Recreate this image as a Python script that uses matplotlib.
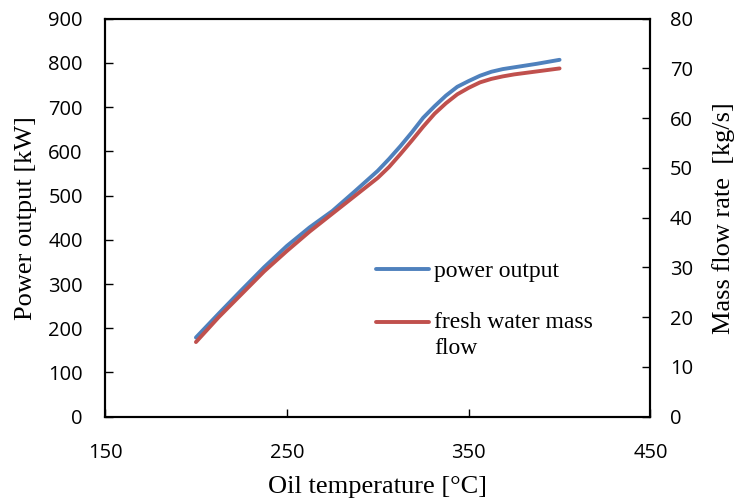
import matplotlib
matplotlib.use("Agg")
import matplotlib.pyplot as plt
from matplotlib.legend_handler import HandlerLine2D

# oil temperature [C]
oil_temp = [200, 212.5, 225, 237.5, 250, 262.5, 275, 287.5, 300, 306.25,
            312.5, 318.75, 325, 331.25, 337.5, 343.75, 350, 356.25, 362.5,
            368.75, 375, 387.5, 400]
# power output [kW]
power = [179, 233, 286, 338, 386, 428, 465, 510, 556, 583,
         612, 643, 676, 702, 726, 746, 759, 771, 780,
         786, 790, 798, 807]
# fresh water mass flow [kg/s]
water_flow = [15.0, 20.0, 24.6, 29.2, 33.3, 37.2, 40.8, 44.4, 48.0, 50.2,
              52.8, 55.5, 58.3, 60.9, 63.0, 64.8, 66.1, 67.2, 67.9,
              68.4, 68.8, 69.4, 70.0]

x_ticks = [150, 250, 350, 450]
left_ticks = list(range(0, 901, 100))
right_ticks = list(range(0, 81, 10))

blue = "#4F81BD"
red = "#C0504D"
serif = "Liberation Serif"
sans = "Open Sans"


class FirstLineHandler(HandlerLine2D):
    # put the legend line next to the first line of a wrapped label
    def __init__(self, lift=0, **kw):
        super().__init__(**kw)
        self.lift = lift

    def create_artists(self, legend, orig_handle, xdescent, ydescent,
                       width, height, fontsize, trans):
        return super().create_artists(legend, orig_handle, xdescent,
                                      ydescent - 2 * self.lift, width,
                                      height, fontsize, trans)


fig = plt.figure(figsize=(7.34, 5.01), dpi=100)
ax = fig.add_axes([0.1431, 0.1683, 0.8862 - 0.1431, 0.9627 - 0.1683])
ax2 = ax.twinx()

l1, = ax.plot(oil_temp, power, color=blue, lw=2.8, solid_capstyle="round")
l2, = ax2.plot(oil_temp, water_flow, color=red, lw=2.8, solid_capstyle="round")

ax.set_xlim(150, 450)
ax.set_ylim(0, 900)
ax2.set_ylim(0, 80)
ax.set_xticks(x_ticks)
ax.set_yticks(left_ticks)
ax2.set_yticks(right_ticks)

for a in (ax, ax2):
    for s in a.spines.values():
        s.set_linewidth(1.5)
    a.tick_params(direction="in", length=6, width=1, labelsize=14.5)
    for lab in a.get_xticklabels() + a.get_yticklabels():
        lab.set_fontfamily(sans)
ax.tick_params(axis="y", pad=16)
ax.tick_params(axis="x", pad=19)
ax2.tick_params(axis="y", pad=14)

ax.set_xlabel("Oil temperature [°C]", family=serif, fontsize=19, labelpad=9)
ax.set_ylabel("Power output [kW]", family=serif, fontsize=19, labelpad=8)
ax2.set_ylabel("Mass flow rate  [kg/s]", family=serif, fontsize=19, labelpad=14)

leg = ax.legend([l1, l2], ["power output", "fresh water mass\nflow"],
                loc="upper left", bbox_to_anchor=(0.458, 0.445),
                frameon=False, handlelength=2.25, handletextpad=0.2,
                labelspacing=1.25,
                handler_map={l2: FirstLineHandler(lift=9.6)},
                prop={"family": serif, "size": 17})
for t in leg.get_texts():
    t.set_linespacing(1.33)

fig.savefig("out.png", dpi=100)
